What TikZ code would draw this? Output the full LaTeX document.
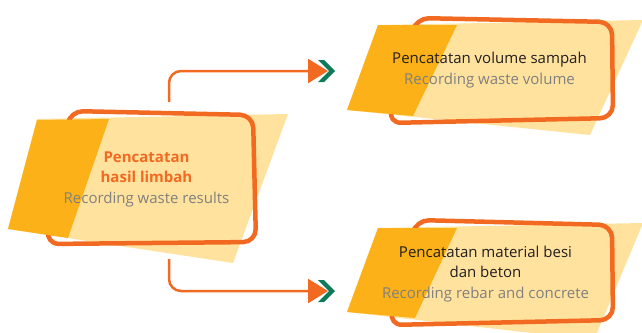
\documentclass[tikz,border=0pt]{standalone}
\usepackage{fontspec}
\setmainfont{Open Sans}
\usetikzlibrary{arrows.meta}

\definecolor{paleYellow}{HTML}{FFE29E}
\definecolor{amber}{HTML}{FBB117}
\definecolor{flame}{HTML}{F26A22}
\definecolor{pine}{HTML}{0E7A5C}
\definecolor{ink}{HTML}{231F20}
\definecolor{softGray}{HTML}{808080}

\tikzset{
  backshape/.style={fill=paleYellow},
  tabshape/.style={fill=amber},
  framebox/.style={draw=flame, line width=4.5bp, rounded corners=13bp},
  % anchor=base sits on the baseline of the last line
  label/.style={inner sep=0pt, align=center, anchor=base,
    font=\fontsize{15bp}{20.5bp}\selectfont},
  connector/.style={draw=flame, line width=2.5bp, rounded corners=12bp,
    -{Triangle[length=20bp,width=24bp]}},
  chevron/.style={fill=pine},
}

\begin{document}
\begin{tikzpicture}[x=1bp, y=-1bp]
\useasboundingbox (0,0) rectangle (642,332);

% ---- left card: Pencatatan hasil limbah ----
\fill[backshape] (37,119) -- (288,114) -- (233,263) -- (8,229) -- cycle;
\draw[framebox] (70,111) -- (253,115) -- (256,242) -- (46,244) -- cycle;
\fill[tabshape] (37,120) -- (109,119) -- (68,238) -- (8,229) -- cycle;
\node[label] (waste) at (146.5,203)
  {\textbf{\textcolor{flame}{Pencatatan}}\\
   \textbf{\textcolor{flame}{hasil limbah}}\\
   \textcolor{softGray}{Recording waste results}};

% ---- upper right card: Pencatatan volume sampah ----
\fill[backshape] (378,25) -- (643,20) -- (590,135) -- (347,110) -- cycle;
\draw[framebox] (416,18) -- (612,22) -- (613,118) -- (388,123) -- cycle;
\fill[tabshape] (378,25) -- (457,25) -- (413,116) -- (347,110) -- cycle;
\node[label] (volume) at (489.5,84)
  {\textcolor{ink}{Pencatatan volume sampah}\\
   \textcolor{softGray}{Recording waste volume}};

% ---- lower right card: Pencatatan material besi dan beton ----
\fill[backshape] (378,228) -- (643,223) -- (594,340) -- (347,312) -- cycle;
\draw[framebox] (416,220) -- (612,225) -- (613,320) -- (389,325) -- cycle;
\fill[tabshape] (378,228) -- (457,228) -- (415,318) -- (347,312) -- cycle;
\node[label] (material) at (485.5,298)
  {\textcolor{ink}{Pencatatan material besi}\\
   \textcolor{ink}{dan beton}\\
   \textcolor{softGray}{Recording rebar and concrete}};

% ---- connectors ----
\coordinate (upStart) at (169,102);
\coordinate (downStart) at (169,259);
\coordinate (upTip) at (328,71);
\coordinate (downTip) at (328,291);

\draw[connector] (upStart) |- (upTip);
\draw[connector] (downStart) |- (downTip);

\foreach \tip in {upTip, downTip}
  \fill[chevron] ([shift={(-10,-11)}]\tip) -- ([shift={(-4,-11)}]\tip)
    -- ([shift={(7,0)}]\tip) -- ([shift={(-4,11)}]\tip)
    -- ([shift={(-10,11)}]\tip) -- ([shift={(1,0)}]\tip) -- cycle;
\end{tikzpicture}
\end{document}
